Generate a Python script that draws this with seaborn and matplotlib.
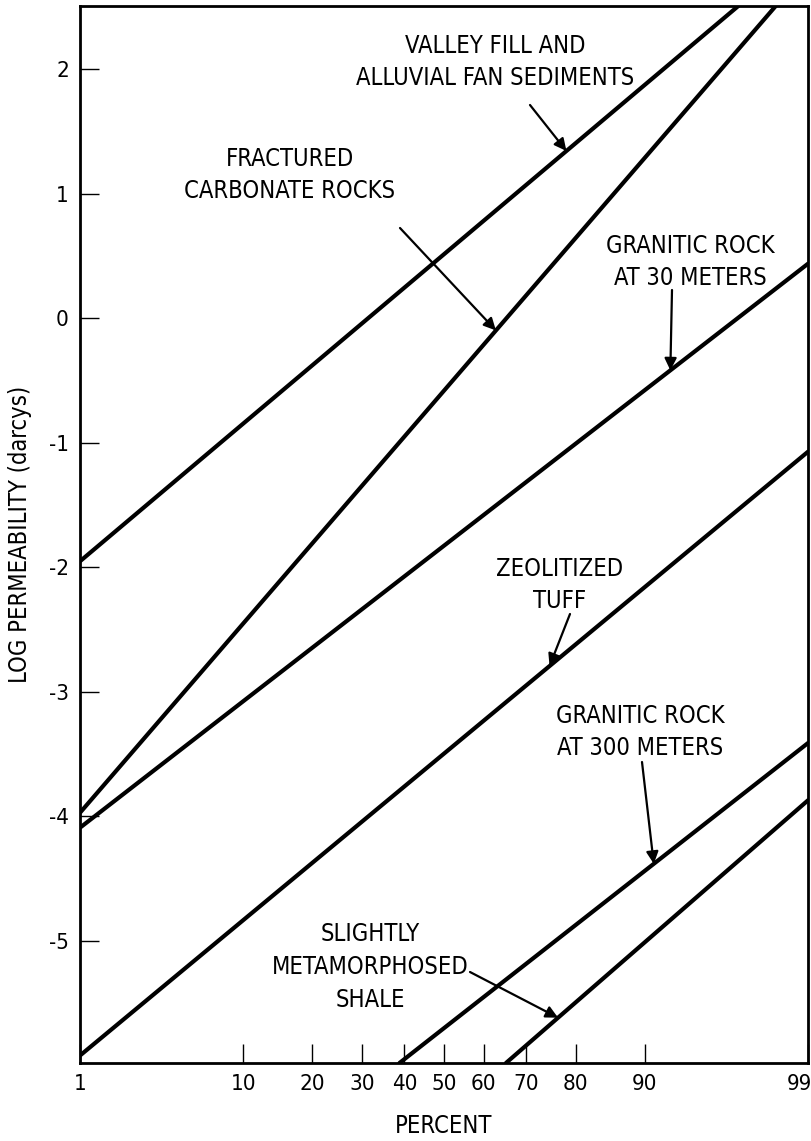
import math
import numpy as np
import pandas as pd
import matplotlib
matplotlib.use("Agg")
import matplotlib.pyplot as plt
import matplotlib.transforms as mtransforms
import seaborn as sns

# percent (probability scale) and log permeability at the ends of each line
rocks = ["valley", "carbonate", "granite30", "tuff", "granite300", "shale"]
pct_start = [1, 1, 1, 1, 38.8, 65.4]
pct_end = [97.0, 98.3, 99, 99, 99, 99]
logk_start = [-1.95, -3.97, -4.09, -5.92, -5.98, -5.98]
logk_end = [2.51, 2.51, 0.44, -1.07, -3.41, -3.87]

x_ticks = [1, 10, 20, 30, 40, 50, 60, 70, 80, 90, 99]
y_ticks = [2, 1, 0, -1, -2, -3, -4, -5]

# normal probability scale
A = [-3.969683028665376e+01, 2.209460984245205e+02, -2.759285104469687e+02,
     1.383577518672690e+02, -3.066479806614716e+01, 2.506628277459239e+00]
B = [-5.447609879822406e+01, 1.615858368580409e+02, -1.556989798598866e+02,
     6.680131188771972e+01, -1.328068155288572e+01]
C = [-7.784894002430293e-03, -3.223964580411365e-01, -2.400758277161838e+00,
     -2.549671231478120e+00, 4.374664141464968e+00, 2.938163982698783e+00]
D = [7.784695709041462e-03, 3.224671290700398e-01, 2.445134137625169e+00,
     3.754408661907416e+00]


def _tail(q):
    num = ((((C[0]*q + C[1])*q + C[2])*q + C[3])*q + C[4])*q + C[5]
    den = (((D[0]*q + D[1])*q + D[2])*q + D[3])*q + 1
    return num / den


def probit(pct):
    p = np.clip(np.asarray(pct, float) / 100.0, 1e-12, 1 - 1e-12)
    q = p - 0.5
    r = q * q
    mid = (((((A[0]*r + A[1])*r + A[2])*r + A[3])*r + A[4])*r + A[5]) * q / \
        (((((B[0]*r + B[1])*r + B[2])*r + B[3])*r + B[4])*r + 1)
    lo = _tail(np.sqrt(-2 * np.log(p)))
    hi = -_tail(np.sqrt(-2 * np.log(1 - p)))
    return np.where(p < 0.02425, lo, np.where(p > 1 - 0.02425, hi, mid))


_erf = np.vectorize(math.erf)


def inv_probit(z):
    z = np.asarray(z, float)
    return 50.0 * (1 + _erf(z / math.sqrt(2)))


def on_line(i, pct):
    zz = probit([pct_start[i], pct_end[i]])
    return pct, float(np.interp(probit(pct), zz, [logk_start[i], logk_end[i]]))


df = pd.DataFrame({
    "rock": rocks * 2,
    "percent": pct_start + pct_end,
    "logk": logk_start + logk_end,
})

sns.set_theme(style="ticks")
plt.rcParams["font.family"] = ["DejaVu Sans"]
plt.rcParams["font.stretch"] = "condensed"
plt.rcParams["axes.unicode_minus"] = False

fig = plt.figure(figsize=(8.12, 11.41), dpi=100)
ax = fig.add_axes([80 / 812, 1 - 1063 / 1141, 728 / 812, 1057 / 1141])
ax.set_xscale("function", functions=(probit, inv_probit))

sns.lineplot(data=df, x="percent", y="logk", hue="rock", units="rock",
             estimator=None, palette=["black"] * 6, linewidth=3.0,
             legend=False, ax=ax)

ax.set_xlim(1, 99)
ax.set_ylim(-5.98, 2.51)
ax.set_xticks(x_ticks)
ax.set_xticklabels([str(t) for t in x_ticks])
ax.set_yticks(y_ticks)
ax.set_yticklabels([str(t) for t in y_ticks])
ax.minorticks_off()
ax.tick_params(direction="in", length=14, width=1, labelsize=16, color="black",
               labelcolor="black", pad=8)
for s in ax.spines.values():
    s.set_linewidth(2)
    s.set_color("black")

# keep the "99" inside the picture
last = ax.get_xticklabels()[-1]
last.set_horizontalalignment("right")
last.set_transform(last.get_transform() +
                   mtransforms.ScaledTranslation(4 / 100, 0, fig.dpi_scale_trans))

ax.set_xlabel("PERCENT", fontsize=17, labelpad=14, color="black")
ax.set_ylabel("LOG PERMEABILITY (darcys)", fontsize=17, labelpad=12,
              color="black")


def px(x, y):
    return ((x - 80) / 728, (1063 - y) / 1057)


labels = [
    (0, 78.3, "VALLEY FILL AND\nALLUVIAL FAN SEDIMENTS", (495, 62), (530, 105)),
    (1, 63.0, "FRACTURED\nCARBONATE ROCKS", (290, 175), (400, 228)),
    (2, 92.6, "GRANITIC ROCK\nAT 30 METERS", (690, 262), (672, 290)),
    (3, 75.0, "ZEOLITIZED\nTUFF", (560, 585), (570, 614)),
    (4, 91.0, "GRANITIC ROCK\nAT 300 METERS", (640, 732), (642, 762)),
    (5, 76.7, "SLIGHTLY\nMETAMORPHOSED\nSHALE", (370, 967), (470, 972)),
]
arrow = dict(arrowstyle="-|>", color="black", lw=1.6, mutation_scale=18,
             shrinkA=0, shrinkB=0)
for i, p, txt, tpos, tail in labels:
    ax.text(*px(*tpos), txt, transform=ax.transAxes, ha="center", va="center",
            fontsize=17, color="black", linespacing=1.45)
    ax.annotate("", xy=on_line(i, p), xycoords="data",
                xytext=px(*tail), textcoords="axes fraction",
                arrowprops=arrow)

fig.savefig("out.png", dpi=100)
